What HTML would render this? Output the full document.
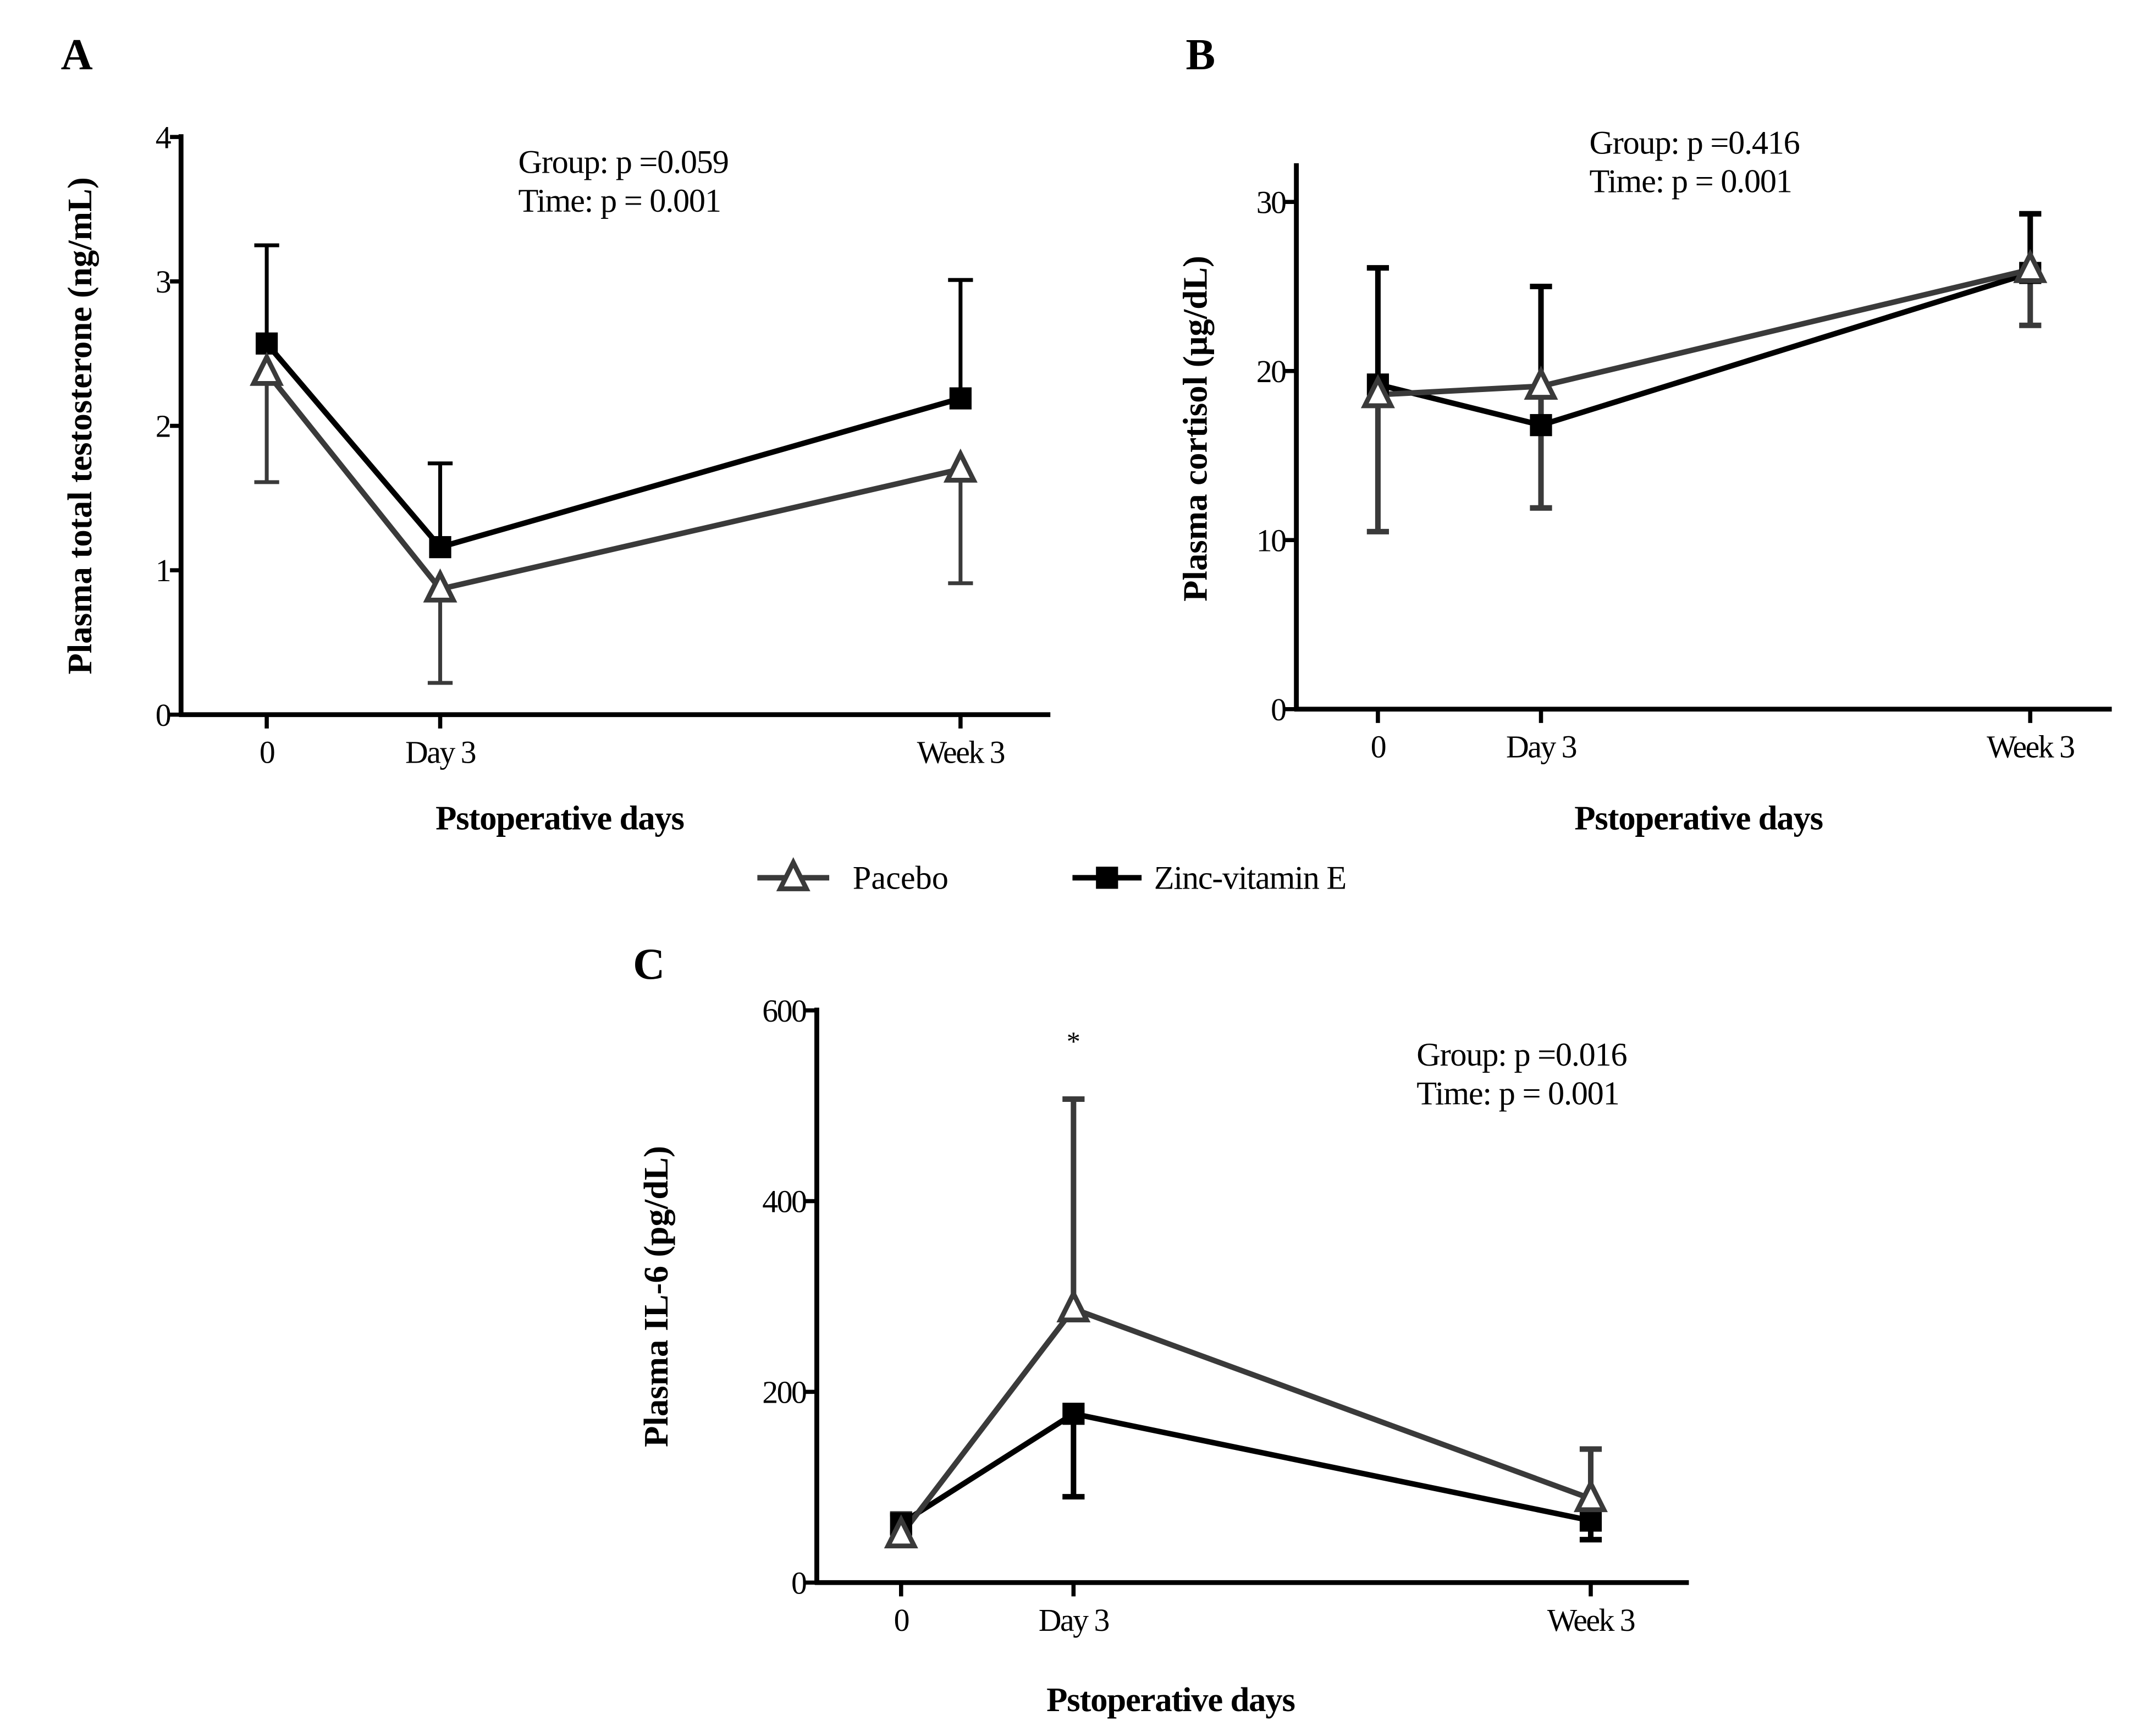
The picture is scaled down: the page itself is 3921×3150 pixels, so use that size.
<!DOCTYPE html>
<html><head><meta charset="utf-8"><style>
html,body{margin:0;padding:0;background:#fff;}
svg{display:block;font-family:"Liberation Serif",serif;}
</style></head><body>
<svg id="fig" width="3921" height="3150" viewBox="0 0 1560 1253" xmlns="http://www.w3.org/2000/svg">
<rect width="1560" height="1253" fill="#fff"/>
</svg>
<script>
// ---- Data ----
const categories = ["0", "Day 3", "Week 3"];
const catX = [0, 3, 12];
// Panel A
const aPlacebo = [2.37, 0.87, 1.70];
const aPlaceboErrLo = [1.61, 0.22, 0.91];
const aZinc = [2.57, 1.16, 2.19];
const aZincErrHi = [3.25, 1.74, 3.01];
const aTicks = [0, 1, 2, 3, 4];
// Panel B
const bPlacebo = [18.6, 19.1, 26.0];
const bPlaceboErrLo = [10.5, 11.9, 22.7];
const bZinc = [19.2, 16.8, 25.8];
const bZincErrHi = [26.1, 25.0, 29.3];
const bTicks = [0, 10, 20, 30];
// Panel C
const cPlacebo = [50, 287, 88];
const cPlaceboErrHi = [72, 507, 140];
const cZinc = [62, 177, 65];
const cZincErrLo = [52, 90, 45];
const cTicks = [0, 200, 400, 600];

const NS = "http://www.w3.org/2000/svg";
const svg = document.getElementById("fig");
function el(tag, attrs, parent, text) {
  const e = document.createElementNS(NS, tag);
  for (const k in attrs) e.setAttribute(k, attrs[k]);
  if (text !== undefined) e.textContent = text;
  (parent || svg).appendChild(e);
  return e;
}
const PCOL = "#3a3a3a", ZCOL = "#000";

function panel(p) {
  const g = el("g", {});
  
  
  const sx = v => p.x0 + (v - catX[0]) * (p.x2 - p.x0) / (catX[2] - catX[0]);
  const sy = v => p.yBase - v * (p.yBase - p.yTopTick) / p.yMax;
  const ya = el("line", {x1: p.axX, y1: p.axTop, x2: p.axX, y2: p.yBase + 1.5, stroke: "#000", "stroke-width": 3.5}, g);
  
  
  const xa = el("line", {x1: p.axX - 1.5, y1: p.yBase, x2: p.axRight, y2: p.yBase, stroke: "#000", "stroke-width": 3.5}, g);
  
  
  p.ticks.forEach(t => {
    const y = sy(t);
    el("line", {x1: p.axX - 8, y1: y, x2: p.axX, y2: y, stroke: "#000", "stroke-width": 3}, g);
    const tl = el("text", {x: p.axX - 8, y: y + 8, "text-anchor": "end", "font-size": 23, "letter-spacing": -1}, g, String(t));
    
    
  });
  categories.forEach((c, i) => {
    const x = sx(catX[i]);
    el("line", {x1: x, y1: p.yBase, x2: x, y2: p.yBase + 10, stroke: "#000", "stroke-width": 3}, g);
    const tl = el("text", {x: x, y: p.yBase + 35, "text-anchor": "middle", "font-size": 23, "letter-spacing": -1}, g, c);
    
    
  });
  function err(vals, ends, col, name) {
    vals.forEach((v, i) => {
      const x = sx(catX[i]);
      const e = el("line", {x1: x, y1: sy(v), x2: x, y2: sy(ends[i]), stroke: col, "stroke-width": p.ebw}, g);
      
      
      el("line", {x1: x - p.cap, y1: sy(ends[i]), x2: x + p.cap, y2: sy(ends[i]), stroke: col, "stroke-width": p.ebw}, g);
    });
  }
  err(p.zinc, p.zincErr, ZCOL, 'zinc-error-bar');
  err(p.plac, p.placErr, PCOL, 'placebo-error-bar');
  const zl = el("polyline", {points: p.zinc.map((v, i) => sx(catX[i]) + "," + sy(v)).join(" "), fill: "none", stroke: ZCOL, "stroke-width": 4}, g);
  
  
  const pl = el("polyline", {points: p.plac.map((v, i) => sx(catX[i]) + "," + sy(v)).join(" "), fill: "none", stroke: PCOL, "stroke-width": 4}, g);
  
  
  p.zinc.forEach((v, i) => {
    const m = el("rect", {x: sx(catX[i]) - 8, y: sy(v) - 8, width: 16, height: 16, fill: ZCOL}, g);
    
    
  });
  p.plac.forEach((v, i) => {
    const x = sx(catX[i]), y = sy(v);
    const m = el("polygon", {points: `${x},${y - 11} ${x - 9.5},${y + 8} ${x + 9.5},${y + 8}`, fill: "#fff", stroke: PCOL, "stroke-width": 3.5}, g);
    
    
  });
  const L = el("text", {x: p.lx, y: p.ly, "font-size": 32, "font-weight": "bold"}, g, p.letter);
  
  
  const yt = el("text", {transform: `translate(${p.ytx},${p.yty}) rotate(-90)`, "text-anchor": "middle", "font-size": 25, "font-weight": "bold"}, g, p.ytitle);
  
  
  const xt = el("text", {x: p.xtx, y: p.xty, "text-anchor": "middle", "font-size": 25, "font-weight": "bold", "letter-spacing": -0.5}, g, "Pstoperative days");
  
  
  const s1 = el("text", {x: p.sx, y: p.sy, "font-size": 24, "letter-spacing": -0.5}, g, p.group);
  
  
  const s2 = el("text", {x: p.sx, y: p.sy + 28, "font-size": 24, "letter-spacing": -0.5}, g, "Time: p = 0.001");
  
  
  return {sx, sy, g};
}

panel({name: "panel-a-testosterone", x0: 193, x2: 695, axX: 131, axTop: 97, axRight: 760, yBase: 517, yTopTick: 99, yMax: 4,
  ticks: aTicks, zinc: aZinc, zincErr: aZincErrHi, plac: aPlacebo, placErr: aPlaceboErrLo, ebw: 2.8, cap: 9,
  letter: "A", lx: 44, ly: 50, ytitle: "Plasma total testosterone (ng/mL)", ytx: 66, yty: 308, xtx: 405, xty: 600,
  sx: 375, sy: 125, group: "Group: p =0.059"});
panel({name: "panel-b-cortisol", x0: 997, x2: 1469, axX: 938, axTop: 118, axRight: 1528, yBase: 513, yTopTick: 146, yMax: 30,
  ticks: bTicks, zinc: bZinc, zincErr: bZincErrHi, plac: bPlacebo, placErr: bPlaceboErrLo, ebw: 4, cap: 8,
  letter: "B", lx: 858, ly: 50, ytitle: "Plasma cortisol (μg/dL)", ytx: 873, yty: 310, xtx: 1229, xty: 600,
  sx: 1150, sy: 111, group: "Group: p =0.416"});
const pc = panel({name: "panel-c-il6", x0: 652, x2: 1151, axX: 591, axTop: 729, axRight: 1222, yBase: 1145, yTopTick: 731, yMax: 600,
  ticks: cTicks, zinc: cZinc, zincErr: cZincErrLo, plac: cPlacebo, placErr: cPlaceboErrHi, ebw: 4, cap: 8,
  letter: "C", lx: 458, ly: 708, ytitle: "Plasma IL-6 (pg/dL)", ytx: 483, yty: 938, xtx: 847, xty: 1238,
  sx: 1025, sy: 771, group: "Group: p =0.016"});
const star = el("text", {x: pc.sx(catX[1]), y: 760, "text-anchor": "middle", "font-size": 20}, pc.g, "*");



const lg = el("g", {});


const le1 = el("g", {}, lg);


el("line", {x1: 548, y1: 635, x2: 600, y2: 635, stroke: PCOL, "stroke-width": 4}, le1);
el("polygon", {points: "574,624 564.5,643 583.5,643", fill: "#fff", stroke: PCOL, "stroke-width": 3.5}, le1);
el("text", {x: 617, y: 643, "font-size": 24}, le1, "Pacebo");
const le2 = el("g", {}, lg);


el("line", {x1: 776, y1: 635, x2: 826, y2: 635, stroke: ZCOL, "stroke-width": 4}, le2);
el("rect", {x: 793, y: 627, width: 16, height: 16, fill: ZCOL}, le2);
el("text", {x: 835, y: 643, "font-size": 24, "letter-spacing": -0.5}, le2, "Zinc-vitamin E");
</script>
</body></html>
